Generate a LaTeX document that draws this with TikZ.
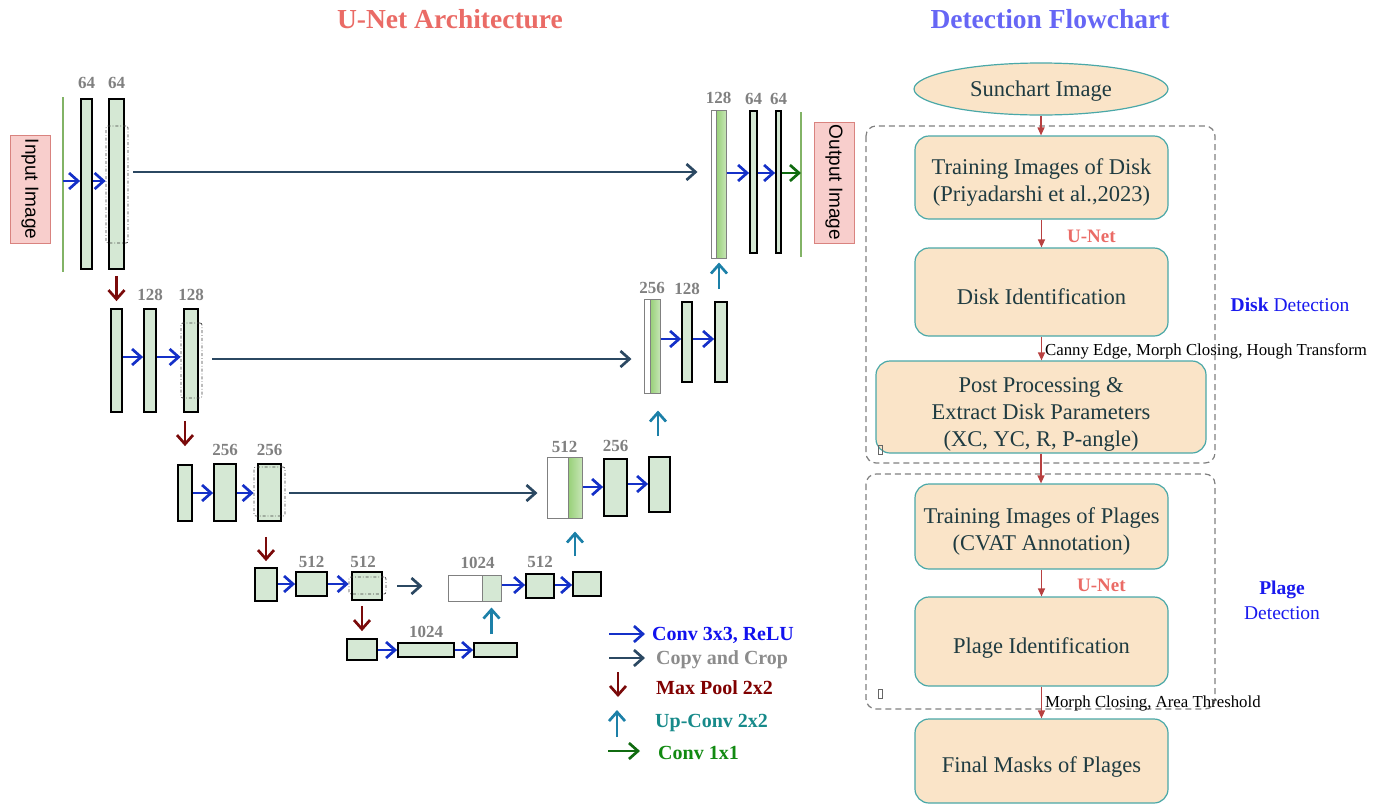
\documentclass[tikz,border=0pt]{standalone}
\usepackage{fontspec}
\setmainfont{Liberation Serif}
\newfontfamily\arialfont{Liberation Sans}
\usetikzlibrary{arrows.meta,positioning,shapes.geometric}

\definecolor{barfill}{HTML}{D5E8D4}
\definecolor{catdark}{HTML}{97D077}
\definecolor{catlight}{HTML}{C6E5B5}
\definecolor{convblue}{HTML}{1430C8}
\definecolor{copyslate}{HTML}{2B4862}
\definecolor{poolred}{HTML}{7A0A0A}
\definecolor{upteal}{HTML}{1C80A8}
\definecolor{outgreen}{HTML}{106B10}
\definecolor{lineg}{HTML}{82B366}
\definecolor{imgfill}{HTML}{F8CECC}
\definecolor{imgdraw}{HTML}{D9837F}
\definecolor{numgray}{HTML}{808080}
\definecolor{unetred}{HTML}{EA6B66}
\definecolor{flowblue}{HTML}{6666F5}
\definecolor{boxfill}{HTML}{FAE4C8}
\definecolor{boxdraw}{HTML}{4AA8A8}
\definecolor{boxtext}{HTML}{1F3B41}
\definecolor{flowred}{HTML}{B84040}
\definecolor{sideblue}{HTML}{1A1AEE}
\definecolor{legblue}{HTML}{1111EE}
\definecolor{leggray}{HTML}{8C8C8C}
\definecolor{legred}{HTML}{800000}
\definecolor{legteal}{HTML}{178A8A}
\definecolor{leggreen}{HTML}{128A12}

% block given by its corners: \blk[style]{x1}{y1}{x2}{y2}{name}
\newcommand{\blk}[6][bar]{\node[#1, minimum width={#4-#2}, minimum height={#5-#3}] (#6) at ({(#2+#4)/2},{(#3+#5)/2}) {};}

\tikzset{
  title/.style={font=\fontsize{27.5}{30}\selectfont\bfseries},
  bar/.style={draw=black, line width=1.8pt, fill=barfill, inner sep=0pt},
  catbox/.style={draw=gray, line width=1pt, fill=white, inner sep=0pt},
  catpart/.style={draw=gray, line width=1pt, left color=catdark, right color=catlight, inner sep=0pt},
  catplain/.style={draw=gray, line width=1pt, fill=barfill, inner sep=0pt},
  cropbox/.style={draw=black!75, line width=0.7pt, dash dot, rounded corners=2pt, inner sep=0pt},
  num/.style={text=numgray, font=\fontsize{17}{17}\selectfont\bfseries, inner sep=0pt},
  imgbox/.style={draw=imgdraw, line width=1pt, fill=imgfill, inner sep=0pt, font=\arialfont\fontsize{19}{19}\selectfont},
  gline/.style={draw=lineg, line width=1.3pt},
  tip/.style={line width=2.7pt, -{Straight Barb[length=9pt,width=16pt]}},
  conv/.style={tip, draw=convblue},
  copy/.style={tip, draw=copyslate},
  pool/.style={tip, draw=poolred},
  up/.style={tip, draw=upteal},
  fin/.style={tip, draw=outgreen},
  legtxt/.style={anchor=west, inner sep=0pt, font=\fontsize{20}{20}\selectfont\bfseries},
  lift/.style={execute at begin node={\rule{0pt}{#1}}},
  flowtxt/.style={text=boxtext, font=\fontsize{22.5}{27}\selectfont, align=center},
  flowbox/.style={flowtxt, rectangle, rounded corners=14pt, draw=boxdraw, line width=1.2pt, fill=boxfill, minimum width=253, inner sep=0pt, lift=26pt},
  flowell/.style={flowtxt, ellipse, draw=boxdraw, line width=1.2pt, fill=boxfill, minimum width=254, minimum height=52, inner sep=0pt, lift=20pt},
  flow/.style={draw=flowred, line width=1.2pt, -{Triangle[length=8pt,width=7pt]}},
  group/.style={draw=gray, line width=1.2pt, dash pattern=on 6pt off 4pt, rounded corners=10pt},
  steplbl/.style={font=\fontsize{16.8}{18}\selectfont, text=black, inner sep=1pt},
  unetlbl/.style={text=unetred, font=\fontsize{19}{19}\selectfont\bfseries, inner sep=0pt},
  sidelbl/.style={text=sideblue, font=\fontsize{19.5}{25}\selectfont, align=center},
}

\begin{document}
\begin{tikzpicture}[x=1pt,y=-1pt]
\useasboundingbox (0,0) rectangle (1387,804);

\node[title, text=unetred] (t1) at (450,19) {U-Net Architecture};
\node[title, text=flowblue] (t2) at (1050,19) {Detection Flowchart};

% ---- contracting path ----
\node[imgbox, rotate=-90, minimum width=108, minimum height=40] (inimg) at (30,189) {Input Image};
\draw[gline] (63,97) -- (63,272);
\coordinate (gin) at (63,184);

\blk{81}{99}{92}{269}{e11}
\blk{109}{99}{124}{269}{e12}
\blk[cropbox]{106}{126}{128}{243}{k1}

\blk{111}{309}{122}{412}{e21}
\blk{144}{309}{156}{412}{e22}
\blk{184}{309}{198}{412}{e23}
\blk[cropbox]{181}{323}{202}{398}{k2}

\blk{178}{465}{192}{521}{e31}
\blk{214}{464}{236}{521}{e32}
\blk{258}{464}{281}{521}{e33}
\blk[cropbox]{254}{467}{285}{516}{k3}

\blk{255}{568}{277}{601}{e41}
\blk{296}{572}{327}{596}{e42}
\blk{352}{572}{382}{600}{e43}
\blk[cropbox]{349}{577}{386}{594}{k4}

\blk{347}{639}{377}{660}{e51}
\blk{398}{643}{454}{657}{e52}
\blk{474}{643}{517}{657}{e53}

% ---- expanding path ----
\blk[catbox]{448}{575}{501}{601}{c4}
\blk[catplain]{482}{575}{501}{601}{c4g}
\blk{526}{574}{554}{598}{d41}
\blk{573}{572}{601}{596}{d42}

\blk[catbox]{547}{457}{582}{518}{c3}
\blk[catpart]{568}{457}{582}{518}{c3g}
\blk{604}{459}{627}{516}{d31}
\blk{649}{457}{670}{512}{d32}

\blk[catbox]{644}{299}{660}{393}{c2}
\blk[catpart]{650}{299}{660}{393}{c2g}
\blk{682}{302}{692}{382}{d21}
\blk{715}{302}{727}{382}{d22}

\blk[catbox]{711}{110}{726}{258}{c1}
\blk[catpart]{716}{110}{726}{258}{c1g}
\blk{750}{111}{757}{253}{d11}
\blk{776}{111}{781}{253}{d12}
\draw[gline] (801,112) -- (801,257);
\coordinate (gout) at (801,173);
\node[imgbox, rotate=-90, minimum width=121, minimum height=40] (outimg) at (834,182.5) {Output Image};

% channel counts
\node[num, above=9pt of e11] {64};
\node[num, above=9pt of e12] {64};
\node[num, above=7pt of e22] {128};
\node[num, above=7pt of e23] {128};
\node[num, above=7pt of e32] {256};
\node[num, above=7pt of e33] {256};
\node[num, above=3pt of e42] {512};
\node[num, above=3pt of e43, xshift=-4pt] {512};
\node[num, above=4pt of e52] {1024};
\node[num, above=6pt of c4, xshift=3pt] {1024};
\node[num, above=5pt of d41] {512};
\node[num, above=4pt of c3] {512};
\node[num, above=6pt of d31] {256};
\node[num, above=5pt of c2] {256};
\node[num, above=6pt of d21] {128};
\node[num, above=6pt of c1] {128};
\node[num, above=5pt of d11] {64};
\node[num, above=5pt of d12] {64};

% 3x3 convolutions
\draw[conv] (gin |- 0,181) -- (e11.west |- 0,181);
\draw[conv] (e11.east |- 0,181) -- (k1.west |- 0,181);
\draw[conv] (e21.east |- 0,357) -- (e22.west |- 0,357);
\draw[conv] (e22.east |- 0,357) -- (k2.west |- 0,357);
\draw[conv] (e31.east |- 0,493) -- (e32.west |- 0,493);
\draw[conv] (e32.east |- 0,493) -- (k3.west |- 0,493);
\draw[conv] (e41.east |- 0,584) -- (e42.west |- 0,584);
\draw[conv] (e42.east |- 0,584) -- (k4.west |- 0,584);
\draw[conv] (e51.east |- 0,650) -- (e52.west |- 0,650);
\draw[conv] (e52.east |- 0,650) -- (e53.west |- 0,650);
\draw[conv] (c4.east |- 0,585) -- (d41.west |- 0,585);
\draw[conv] (d41.east |- 0,585) -- (d42.west |- 0,585);
\draw[conv] (c3.east |- 0,487) -- (d31.west |- 0,487);
\draw[conv] (d31.east |- 0,484) -- (d32.west |- 0,484);
\draw[conv] (c2.east |- 0,339) -- (d21.west |- 0,339);
\draw[conv] (d21.east |- 0,339) -- (d22.west |- 0,339);
\draw[conv] (c1.east |- 0,173) -- (d11.west |- 0,173);
\draw[conv] (d11.east |- 0,173) -- (d12.west |- 0,173);
\draw[fin] (d12.east |- 0,173) -- (gout);

% copy and crop
\draw[copy, shorten <=5pt, shorten >=13pt] (k1.east |- 0,172) -- (c1.west |- 0,172);
\draw[copy, shorten <=10pt, shorten >=12pt] (k2.east |- 0,359) -- (c2.west |- 0,359);
\draw[copy, shorten <=4pt, shorten >=9pt] (k3.east |- 0,493) -- (c3.west |- 0,493);
\draw[copy, shorten <=11pt, shorten >=25pt] (k4.east |- 0,586) -- (c4.west |- 0,586);

% max pooling
\draw[pool, shorten <=6pt, shorten >=7pt] (e12.south) -- (e21.north);
\draw[pool, shorten <=8pt, shorten >=18pt] (e31.north |- e23.south) -- (e31.north);
\draw[pool, shorten <=15pt, shorten >=6pt] (e41.north |- e33.south) -- (e41.north);
\draw[pool, shorten <=5pt, shorten >=7pt] (e51.north |- e43.south) -- (e51.north);

% up-convolutions
\draw[up, shorten <=8pt, shorten >=6pt] (c4g.south |- e53.north) -- (c4g.south);
\draw[up, shorten <=15pt, shorten >=13pt] (c3g.south |- d42.north) -- (c3g.south);
\draw[up, shorten <=20pt, shorten >=17pt] (d32.north -| 658,0) -- (c2.south -| 658,0);
\draw[up, shorten <=12pt, shorten >=4pt] (d22.north -| 719,0) -- (c1.south -| 719,0);

% legend
\node[legtxt, text=legblue] (lconv) at (652,635) {Conv 3x3, ReLU};
\node[legtxt, text=leggray] (lcopy) at (656,660) {Copy and Crop};
\node[legtxt, text=legred] (lpool) at (656,688) {Max Pool 2x2};
\node[legtxt, text=legteal] (lup) at (655,723) {Up-Conv 2x2};
\node[legtxt, text=leggreen] (lfin) at (658,753) {Conv 1x1};
\coordinate (lconv0) at (609,634);
\coordinate (lcopy0) at (609,658);
\coordinate (lpool0) at (618,672);
\coordinate (lpool1) at (618,697);
\coordinate (lup0) at (617,737);
\coordinate (lup1) at (617,710);
\coordinate (lfin0) at (608,751);
\draw[conv] (lconv0) -- ([xshift=-7pt]lconv.west |- lconv0);
\draw[copy] (lcopy0) -- ([xshift=-11pt]lcopy.west |- lcopy0);
\draw[pool] (lpool0) -- (lpool1);
\draw[up] (lup0) -- (lup1);
\draw[fin] (lfin0) -- ([xshift=-18pt]lfin.west |- lfin0);

% ---- detection flowchart ----
\draw[group] (866,126) rectangle (1215,463);
\draw[group] (866,474) rectangle (1215,709);

\node[flowell] (img) at (1041,89) {Sunchart Image};
\node[flowbox, minimum height=83, lift=53pt] (trd) at (1041.5,177.5) {Training Images of Disk\\(Priyadarshi et al.,2023)};
\node[flowbox, minimum height=88] (did) at (1041.5,292) {Disk Identification};
\node[flowbox, minimum width=330, minimum height=92, lift=84pt] (post) at (1041,407) {Post Processing \&\\Extract Disk Parameters\\(XC, YC, R, P-angle)};
\node[flowbox, minimum height=85, lift=53pt] (trp) at (1041.5,526.5) {Training Images of Plages\\(CVAT Annotation)};
\node[flowbox, minimum height=89, lift=28pt] (pid) at (1041.5,641.5) {Plage Identification};
\node[flowbox, minimum height=84, lift=28pt] (fmask) at (1041.5,761) {Final Masks of Plages};

\draw[flow] (img) -- (img |- trd.north);
\draw[flow] (trd) -- (trd |- did.north) node[midway, right=25pt, yshift=-3pt, unetlbl] {U-Net};
\draw[flow] (did) -- (did |- post.north) node[midway, right=2pt, yshift=-3pt, steplbl] {Canny Edge, Morph Closing, Hough Transform};
\draw[flow] (post) -- (post |- trp.north);
\draw[flow] (trp) -- (trp |- pid.north) node[midway, right=35pt, yshift=-2pt, unetlbl] {U-Net};
\draw[flow] (pid) -- (pid |- fmask.north) node[midway, right=2pt, yshift=-1pt, steplbl] {Morph Closing, Area Threshold};

\draw[draw=black!60, line width=0.6pt] (878,445) rectangle (882,454);
\draw[draw=black!60, line width=0.6pt] (878,689) rectangle (882,698);

\node[sidelbl] (sdisk) at (1290,305) {\textbf{Disk} Detection};
\node[sidelbl] (splage) at (1282,600) {\textbf{Plage}\\Detection};
\end{tikzpicture}
\end{document}
